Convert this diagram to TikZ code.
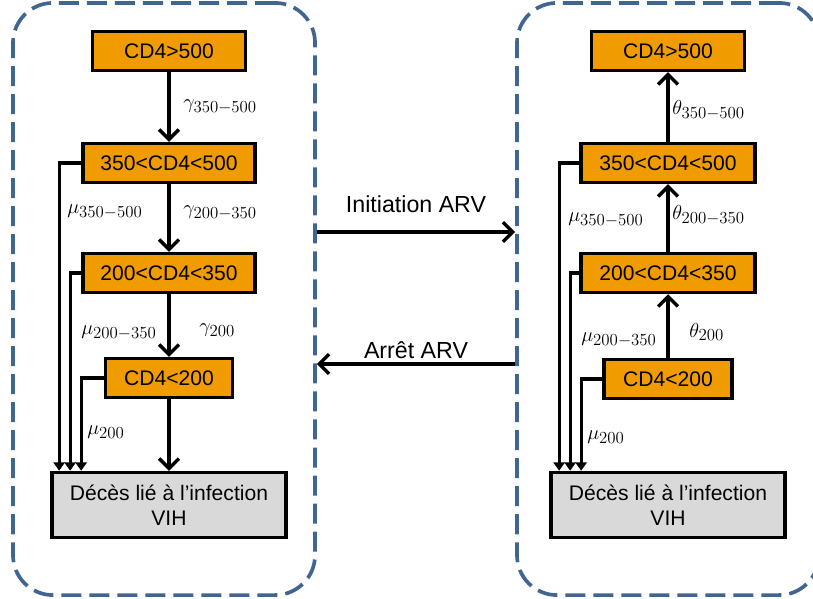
\documentclass[tikz,border=0pt]{standalone}
\usepackage{fontspec}
\setmainfont{Liberation Sans}
\usetikzlibrary{arrows.meta}
\DeclareMathSizes{14}{14}{12.5}{9}
\definecolor{orangeCD}{RGB}{240,155,0}
\definecolor{grisdc}{RGB}{217,217,217}
\definecolor{bleupanel}{RGB}{64,101,145}

\begin{document}
\begin{tikzpicture}[x=0.025cm, y=-0.025cm,
  stade/.style={draw, line width=2.6pt, fill=orangeCD, inner sep=0pt, minimum height=0.97cm, font=\fontsize{15}{18}\selectfont},
  deces/.style={draw, line width=2.6pt, fill=grisdc, inner sep=0pt, minimum width=5.85cm, minimum height=1.62cm, align=center, font=\fontsize{15}{17.7}\selectfont},
  panel/.style={draw=bleupanel, line width=2.6pt, dash pattern=on 0.5cm off 0.2cm, rounded corners=1cm, minimum width=7.55cm, minimum height=14.8cm},
  prog/.style={line width=2.4pt, -{Straight Barb[length=7pt,width=14pt]}},
  mort/.style={line width=2.2pt, -{Triangle[length=6pt,width=8pt]}},
  taux/.style={anchor=west, inner sep=0pt, font=\fontsize{14}{16}\selectfont},
  passage/.style={inner sep=0pt, font=\fontsize{16.5}{19}\selectfont}]
\useasboundingbox (0,0) rectangle (813,598);

% sans traitement
\node[panel] (gauche) at (164,299) {};
\node[stade, minimum width=3.83cm] (g500) at (169,51) {CD4>500};
\node[stade, minimum width=4.3cm] (g350) at (169,163) {350<CD4<500};
\node[stade, minimum width=4.3cm] (g200) at (169,273) {200<CD4<350};
\node[stade, minimum width=3.18cm] (g0) at (169,378) {CD4<200};
\node[deces] (gdc) at (169,505) {Décès lié à l’infection\\VIH};
\draw[prog] (g500) -- (g350);
\draw[prog] (g350) -- (g200);
\draw[prog] (g200) -- (g0);
\draw[prog] (g0) -- (gdc);
\draw[mort] (g350.west) -| ([xshift=0.225cm]gdc.north west);
\draw[mort] (g200.west) -| ([xshift=0.5cm]gdc.north west);
\draw[mort] (g0.west) -| ([xshift=0.775cm]gdc.north west);
\node[taux] (gg1) at (183,107) {$\gamma_{350-500}$};
\node[taux] (gg2) at (183,213) {$\gamma_{200-350}$};
\node[taux] (gg3) at (199,330) {$\gamma_{200}$};
\node[taux] (gm1) at (67,212) {$\mu_{350-500}$};
\node[taux] (gm2) at (81,333) {$\mu_{200-350}$};
\node[taux] (gm3) at (87,432) {$\mu_{200}$};

% sous ARV
\node[panel] (droite) at (668,299) {};
\node[stade, minimum width=3.83cm] (d500) at (668,51) {CD4>500};
\node[stade, minimum width=4.35cm] (d350) at (668,163) {350<CD4<500};
\node[stade, minimum width=4.35cm] (d200) at (668,273) {200<CD4<350};
\node[stade, minimum width=3.2cm] (d0) at (668,379) {CD4<200};
\node[deces] (ddc) at (668,505) {Décès lié à l’infection\\VIH};
\draw[prog] (d0) -- (d200);
\draw[prog] (d200) -- (d350);
\draw[prog] (d350) -- (d500);
\draw[mort] (d350.west) -| ([xshift=0.25cm]ddc.north west);
\draw[mort] (d200.west) -| ([xshift=0.525cm]ddc.north west);
\draw[mort] (d0.west) -| ([xshift=0.8cm]ddc.north west);
\node[taux] (dt1) at (672,110) {$\theta_{350-500}$};
\node[taux] (dt2) at (672,215) {$\theta_{200-350}$};
\node[taux] (dt3) at (689,332) {$\theta_{200}$};
\node[taux] (dm1) at (568,220) {$\mu_{350-500}$};
\node[taux] (dm2) at (581,340) {$\mu_{200-350}$};
\node[taux] (dm3) at (587,437) {$\mu_{200}$};

% passages entre les deux volets
\draw[prog] ([yshift=1.675cm]gauche.east) -- ([yshift=1.675cm]droite.west)
  node[passage, midway, above=0.45cm] (ini) {Initiation ARV};
\draw[prog] ([yshift=-1.625cm]droite.west) -- ([yshift=-1.625cm]gauche.east)
  node[passage, midway, above=0.1cm] (arr) {Arrêt ARV};
\end{tikzpicture}
\end{document}
